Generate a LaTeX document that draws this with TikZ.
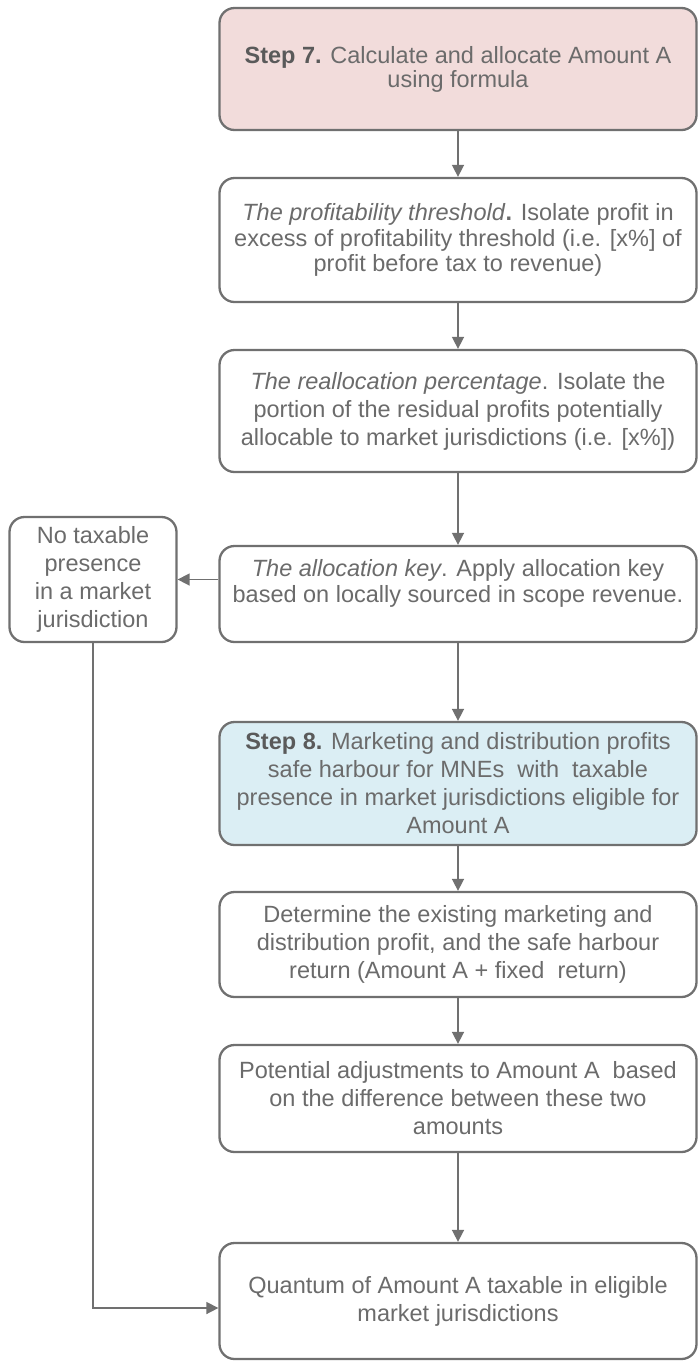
\documentclass[tikz,border=0pt]{standalone}
\usepackage{fontspec}
\setmainfont{Liberation Sans}
\usetikzlibrary{arrows.meta}

\definecolor{edge}{HTML}{707070}
\definecolor{ink}{HTML}{6B6B6B}
\definecolor{stepink}{HTML}{5A5A5A}
\definecolor{rosefill}{HTML}{F2DCDB}
\definecolor{aquafill}{HTML}{DBEEF4}

\tikzset{
  flowbox/.style={draw=edge, line width=2.3pt, rounded corners=15pt, fill=white,
    text=ink, align=center, inner sep=0pt, minimum width=477pt,
    font=\fontsize{23.5}{28}\selectfont},
  sidebox/.style={flowbox, minimum width=167pt},
  link/.style={draw=edge, line width=1.6pt, -{Triangle[length=12pt,width=12pt]}},
}
\newcommand{\stepword}[1]{\textbf{\color{stepink}#1}}

\begin{document}
\begin{tikzpicture}[x=1pt,y=-1pt]
  \fill[white] (0,0) rectangle (698,1361);
  \useasboundingbox (0,0) rectangle (698,1361);

  % main column of steps
  \node[flowbox, fill=rosefill, minimum height=122pt,
        font=\fontsize{23.5}{24}\selectfont] (s7) at (458,69)
    {\stepword{Step 7.} Calculate and allocate Amount A\\using formula};
  \node[flowbox, minimum height=124pt, font=\fontsize{23.5}{25.5}\selectfont] (thr) at (458,240)
    {\textit{The profitability threshold}\textbf{.} Isolate profit in\\
     excess of profitability threshold (i.e. [x\%] of\\
     profit before tax to revenue)};
  \node[flowbox, minimum height=122pt] (realloc) at (458,411)
    {\textit{The reallocation percentage}. Isolate the\\
     portion of the residual profits potentially\\
     allocable to market jurisdictions (i.e. [x\%])};
  \node[flowbox, minimum height=96pt, font=\fontsize{23.5}{26}\selectfont] (key) at (458,594)
    {\textit{The allocation key}. Apply allocation key\\
     based on locally sourced in scope revenue.\\\mbox{}};
  \node[sidebox, minimum height=125pt] (nopres) at (93,579.5)
    {No taxable\\presence\\in a market\\jurisdiction};
  \node[flowbox, fill=aquafill, minimum height=123pt] (s8) at (458,783.5)
    {\stepword{Step 8.} Marketing and distribution profits\\
     safe harbour for MNEs\ \ with\ \ taxable\\
     presence in market jurisdictions eligible for\\
     Amount A};
  \node[flowbox, minimum height=105pt] (det) at (458,944.5)
    {Determine the existing marketing and\\
     distribution profit, and the safe harbour\\
     return (Amount A + fixed\ \ return)};
  \node[flowbox, minimum height=107pt] (adj) at (458,1098.5)
    {Potential adjustments to Amount A\ \ based\\
     on the difference between these two\\
     amounts};
  \node[flowbox, minimum height=116pt] (quant) at (458,1301)
    {Quantum of Amount A taxable in eligible\\
     market jurisdictions};

  % connectors
  \draw[link] (s7.south) -- (thr.north);
  \draw[link] (thr.south) -- (realloc.north);
  \draw[link] (realloc.south) -- (key.north);
  \draw[link] (key.west |- nopres.east) -- (nopres.east);
  \draw[link] (key.south) -- (s8.north);
  \draw[link] (s8.south) -- (det.north);
  \draw[link] (det.south) -- (adj.north);
  \draw[link] (adj.south) -- (quant.north);
  \draw[link] (nopres.south) |- ([yshift=-7pt]quant.west);
\end{tikzpicture}
\end{document}
